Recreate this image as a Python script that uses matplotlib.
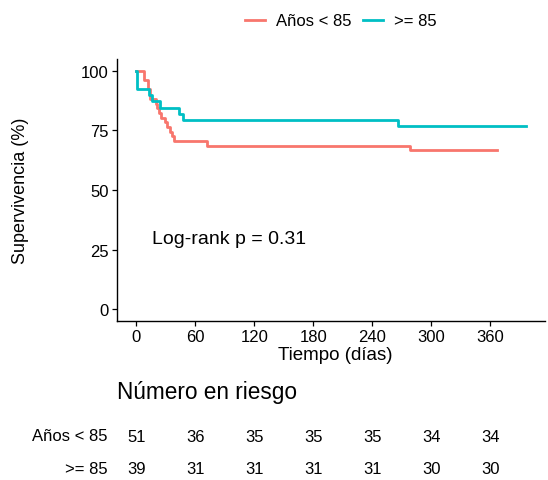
import numpy as np
import matplotlib.pyplot as plt

plt.rcParams['font.family'] = ['Liberation Sans', 'DejaVu Sans']

# curvas de Kaplan-Meier (tiempo en dias, supervivencia en %)
t_menor = [0, 8, 12, 14, 20, 21, 23, 25, 29, 31, 34, 36, 38, 72, 278, 367]
s_menor = [100, 96.1, 92.2, 88.2, 86.3, 84.3, 82.4, 80.4, 78.4, 76.5, 74.5, 72.5, 70.6, 68.6, 66.7, 66.7]
t_mayor = [0, 1, 13, 16, 24, 43, 47, 266, 396]
s_mayor = [100, 92.3, 89.7, 87.2, 84.6, 82.1, 79.5, 76.9, 76.9]

grupos = ["Años < 85", ">= 85"]
colores = ["#F8766D", "#00BFC4"]

ticks_x = [0, 60, 120, 180, 240, 300, 360]
riesgo_menor = [51, 36, 35, 35, 35, 34, 34]
riesgo_mayor = [39, 31, 31, 31, 31, 30, 30]

fig = plt.figure(figsize=(5.48, 4.81), dpi=100)
fig.patch.set_facecolor("white")

W, H = 548.0, 481.0
ax = fig.add_axes([117 / W, 1 - 322 / H, 428 / W, 262 / H])
ax.step(t_menor, s_menor, where="post", color=colores[0], lw=2.0, label=grupos[0])
ax.step(t_mayor, s_mayor, where="post", color=colores[1], lw=2.0, label=grupos[1])

xlim = (-19.8, 415.8)
ax.set_xlim(xlim)
ax.set_ylim(-5, 105)
ax.set_xticks(ticks_x)
ax.set_yticks([0, 25, 50, 75, 100])
ax.tick_params(labelsize=12, colors="black", length=3.5, width=0.9, pad=2.5)
for s in ["top", "right"]:
    ax.spines[s].set_visible(False)
for s in ["left", "bottom"]:
    ax.spines[s].set_linewidth(1.0)
ax.set_xlabel("Tiempo (días)", fontsize=13.5, labelpad=1)
ax.xaxis.set_label_coords(0.51, -0.095)
ax.set_ylabel("Supervivencia (%)", fontsize=13)
ax.yaxis.set_label_coords(-0.206, 0.5)
ax.text(15.5, 29.5, "Log-rank p = 0.31", fontsize=14, va="center", ha="left")

leg = fig.legend(loc="center", bbox_to_anchor=(341 / W, 1 - 22 / H), ncol=2,
                 frameon=False, fontsize=12, handlelength=1.2, columnspacing=0.7,
                 handletextpad=0.65)

# tabla de numero en riesgo
ax2 = fig.add_axes([117 / W, 0, 428 / W, 1 - 365 / H])
ax2.set_xlim(xlim)
ax2.set_ylim(481, 365)
ax2.axis("off")
ax2.text(xlim[0], 393, "Número en riesgo", fontsize=16.3, va="center", ha="left")
for t, a, b in zip(ticks_x, riesgo_menor, riesgo_mayor):
    ax2.text(t, 437, str(a), fontsize=12, ha="center", va="center")
    ax2.text(t, 470, str(b), fontsize=12, ha="center", va="center")
fig.text(108 / W, 1 - 437 / H, grupos[0], fontsize=12, ha="right", va="center")
fig.text(108 / W, 1 - 470 / H, grupos[1], fontsize=12, ha="right", va="center")

fig.savefig("out.png", dpi=100)
